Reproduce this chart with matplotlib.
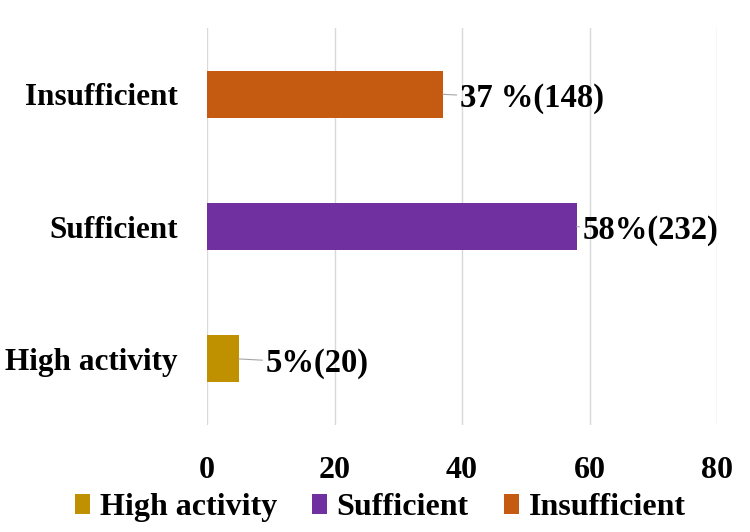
import matplotlib
matplotlib.use("Agg")
import matplotlib.pyplot as plt
from matplotlib.patches import Patch

categories = ["High activity", "Sufficient", "Insufficient"]
values = [5, 58, 37]
labels = ["5%(20)", "58%(232)", "37 %(148)"]
colors = ["#BF9000", "#7030A0", "#C55A11"]
label_offsets = [19, 4, 12]  # points, leader line length
xticks = [0, 20, 40, 60, 80]

plt.rcParams['font.family'] = ['Liberation Serif', 'DejaVu Serif']
plt.rcParams['font.weight'] = 'bold'

fig = plt.figure(figsize=(7.5, 5.32), dpi=100)
ax = fig.add_axes([0.276, 0.201, 0.680, 0.746])

ypos = list(range(len(categories)))
ax.barh(ypos, values, height=0.355, color=colors, zorder=3)

for y, v, lab, off in zip(ypos, values, labels, label_offsets):
    ax.annotate(lab, xy=(v, y), xytext=(off, -3), textcoords='offset points',
                ha='left', va='center', fontsize=23.5, fontweight='bold',
                arrowprops=dict(arrowstyle='-', color='#A6A6A6', lw=0.8,
                                shrinkA=0, shrinkB=0),
                zorder=4)

ax.set_xlim(0, 80)
ax.set_ylim(-0.5, 2.5)
ax.set_xticks(xticks)
ax.set_xticklabels([str(t) for t in xticks], fontsize=23, fontweight='bold')
ax.set_yticks(ypos)
ax.set_yticklabels(categories, fontsize=22.5, fontweight='bold')
ax.tick_params(axis='x', length=0, pad=22)
ax.tick_params(axis='y', length=0, pad=21)
ax.grid(axis='x', color='#D9D9D9', lw=1, zorder=0)
ax.set_axisbelow(True)
for s in ax.spines.values():
    s.set_visible(False)

handles = [Patch(facecolor=c, edgecolor='none') for c in colors]
fig.legend(handles, categories, loc='center', bbox_to_anchor=(0.507, 0.046),
           ncol=3, frameon=False, handlelength=0.47, handleheight=0.6,
           handletextpad=0.3, columnspacing=1.1,
           prop={'family': 'Liberation Serif', 'weight': 'bold', 'size': 23})

fig.savefig("out.png", dpi=100)
